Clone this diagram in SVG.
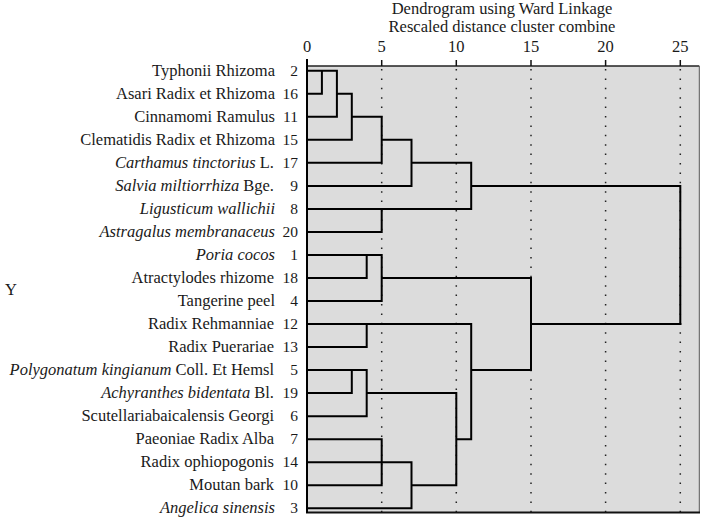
<svg xmlns="http://www.w3.org/2000/svg" width="701" height="517" viewBox="0 0 701 517">
<style>
text{font-family:"Liberation Serif","Times New Roman",serif;font-size:16.5px;fill:#1a1a1a}
.l{text-anchor:end}
.n{text-anchor:end;font-size:15.5px}
.t{text-anchor:middle}
.i{font-style:italic}
.grid{stroke:#222;stroke-width:1.5;stroke-dasharray:1.5 7.9;fill:none}
.tick{stroke:#111;stroke-width:1.5}
.link{stroke:#000;stroke-width:2;fill:none;stroke-linecap:square}
</style>
<rect x="307" y="66" width="392.3" height="446.7" fill="#dcdcdc"/>
<g id="grid">
<line class="grid" x1="381.7" y1="69" x2="381.7" y2="512"/>
<line class="grid" x1="456.3" y1="69" x2="456.3" y2="512"/>
<line class="grid" x1="531" y1="69" x2="531" y2="512"/>
<line class="grid" x1="605.6" y1="69" x2="605.6" y2="512"/>
<line class="grid" x1="680.3" y1="69" x2="680.3" y2="512"/>
</g>
<g id="frame">
<line x1="307" y1="66" x2="699.3" y2="66" stroke="#222" stroke-width="1.3"/>
<line x1="699.3" y1="66" x2="699.3" y2="512.7" stroke="#555" stroke-width="1"/>
<line x1="306" y1="512.5" x2="700" y2="512.5" stroke="#111" stroke-width="2"/>
<line x1="307" y1="59" x2="307" y2="513" stroke="#000" stroke-width="2"/>
<line class="tick" x1="381.7" y1="60" x2="381.7" y2="66"/>
<line class="tick" x1="456.3" y1="60" x2="456.3" y2="66"/>
<line class="tick" x1="531" y1="60" x2="531" y2="66"/>
<line class="tick" x1="605.6" y1="60" x2="605.6" y2="66"/>
<line class="tick" x1="680.3" y1="60" x2="680.3" y2="66"/>
</g>
<g id="axis">
<text class="t" x="502" y="14">Dendrogram using Ward Linkage</text>
<text class="t" x="502" y="32">Rescaled distance cluster combine</text>
<text class="t" x="307" y="52">0</text>
<text class="t" x="381.7" y="52">5</text>
<text class="t" x="456.3" y="52">10</text>
<text class="t" x="531" y="52">15</text>
<text class="t" x="605.6" y="52">20</text>
<text class="t" x="680.3" y="52">25</text>
<text x="5" y="295">Y</text>
</g>
<g id="connectors">
<path class="link" d="M307 70.7H336.9 M307 93.7H321.9 M336.9 93.7H351.8 M307 116.8H336.9 M351.8 116.8H381.7 M307 139.8H351.8 M381.7 139.8H411.5 M307 162.8H381.7 M411.5 162.8H471.2 M307 185.9H411.5 M471.2 185.9H680.3 M307 208.9H471.2 M307 231.9H381.7
M321.9 70.7V93.7 M336.9 70.7V116.8 M351.8 93.7V139.8 M381.7 116.8V162.8 M411.5 139.8V185.9 M381.7 208.9V231.9 M471.2 162.8V208.9 M680.3 185.9V324"/>
<path class="link" d="M307 254.9H381.7 M307 278H366.7 M381.7 278H531 M307 301H381.7 M366.7 254.9V278 M381.7 254.9V301
M307 324H471.2 M531 324H680.3 M307 347.1H366.7 M366.7 324V347.1
M307 370.1H366.7 M471.2 370.1H531 M307 393.1H351.8 M366.7 393.1H456.3 M307 416.2H366.7 M351.8 370.1V393.1 M366.7 370.1V416.2
M307 439.2H381.7 M456.3 439.2H471.2 M307 462.2H411.5 M307 485.2H381.7 M411.5 485.2H456.3 M307 508.3H411.5
M381.7 439.2V485.2 M411.5 462.2V508.3 M456.3 393.1V485.2 M471.2 324V439.2 M531 278V370.1"/>
</g>
<g id="leaf-2"><text class="l" x="275" y="75.7">Typhonii Rhizoma</text><text class="n" x="298" y="75.7">2</text></g>
<g id="leaf-16"><text class="l" x="275" y="98.7">Asari Radix et Rhizoma</text><text class="n" x="298" y="98.7">16</text></g>
<g id="leaf-11"><text class="l" x="275" y="121.8">Cinnamomi Ramulus</text><text class="n" x="298" y="121.8">11</text></g>
<g id="leaf-15"><text class="l" x="275" y="144.8">Clematidis Radix et Rhizoma</text><text class="n" x="298" y="144.8">15</text></g>
<g id="leaf-17"><text class="l" x="274" y="167.8"><tspan class="i">Carthamus tinctorius</tspan> L.</text><text class="n" x="298" y="167.8">17</text></g>
<g id="leaf-9"><text class="l" x="274" y="190.9"><tspan class="i">Salvia miltiorrhiza</tspan> Bge.</text><text class="n" x="298" y="190.9">9</text></g>
<g id="leaf-8"><text class="l" x="275" y="213.9"><tspan class="i">Ligusticum wallichii</tspan></text><text class="n" x="298" y="213.9">8</text></g>
<g id="leaf-20"><text class="l" x="275" y="236.9"><tspan class="i">Astragalus membranaceus</tspan></text><text class="n" x="298" y="236.9">20</text></g>
<g id="leaf-1"><text class="l" x="275" y="259.9"><tspan class="i">Poria cocos</tspan></text><text class="n" x="298" y="259.9">1</text></g>
<g id="leaf-18"><text class="l" x="274" y="283">Atractylodes rhizome</text><text class="n" x="298" y="283">18</text></g>
<g id="leaf-4"><text class="l" x="275" y="306">Tangerine peel</text><text class="n" x="298" y="306">4</text></g>
<g id="leaf-12"><text class="l" x="274" y="329">Radix Rehmanniae</text><text class="n" x="298" y="329">12</text></g>
<g id="leaf-13"><text class="l" x="274" y="352.1">Radix Puerariae</text><text class="n" x="298" y="352.1">13</text></g>
<g id="leaf-5"><text class="l" x="274" y="375.1"><tspan class="i">Polygonatum kingianum</tspan> Coll. Et Hemsl</text><text class="n" x="298" y="375.1">5</text></g>
<g id="leaf-19"><text class="l" x="274" y="398.1"><tspan class="i">Achyranthes bidentata</tspan> Bl.</text><text class="n" x="298" y="398.1">19</text></g>
<g id="leaf-6"><text class="l" x="274" y="421.2">Scutellariabaicalensis Georgi</text><text class="n" x="298" y="421.2">6</text></g>
<g id="leaf-7"><text class="l" x="274" y="444.2">Paeoniae Radix Alba</text><text class="n" x="298" y="444.2">7</text></g>
<g id="leaf-14"><text class="l" x="274" y="467.2">Radix ophiopogonis</text><text class="n" x="298" y="467.2">14</text></g>
<g id="leaf-10"><text class="l" x="274" y="490.2">Moutan bark</text><text class="n" x="298" y="490.2">10</text></g>
<g id="leaf-3"><text class="l" x="275" y="513.3"><tspan class="i">Angelica sinensis</tspan></text><text class="n" x="298" y="513.3">3</text></g>
</svg>
